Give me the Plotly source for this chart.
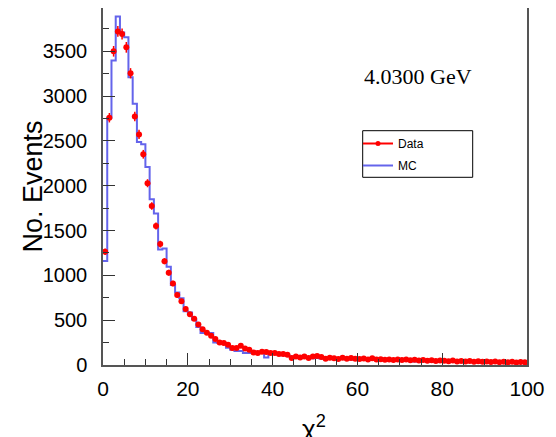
import numpy as np
import plotly.graph_objects as go

# chi2 histogram, 100 bins of width 1 on [0, 100]
bin_low = 0
bin_width = 1
data_counts = [1264, 2759, 3500, 3722, 3693, 3544, 3255, 2773, 2573, 2351,
               2028, 1774, 1550, 1349, 1158, 1030, 910, 780, 712, 626,
               567, 515, 452, 400, 360, 325, 289, 251, 245, 226,
               189, 189, 215, 185, 170, 140, 133, 148, 145, 133,
               133, 122, 122, 115, 78, 96, 85, 96, 78, 96,
               100, 88, 70, 80, 75, 68, 82, 70, 78, 70,
               66, 72, 62, 75, 60, 65, 58, 62, 55, 60,
               55, 60, 52, 58, 50, 55, 48, 52, 45, 50,
               48, 42, 50, 40, 45, 38, 44, 36, 42, 35,
               40, 34, 38, 32, 36, 30, 35, 28, 33, 30]
mc_counts = [1160, 2759, 3396, 3889, 3711, 3656, 3211, 2915, 2488, 2462,
             2209, 1850, 1691, 1290, 1300, 1097, 893, 808, 745, 600,
             585, 508, 423, 356, 356, 356, 251, 245, 245, 192,
             170, 155, 155, 133, 133, 148, 148, 148, 85, 133,
             133, 133, 110, 105, 96, 96, 90, 80, 85, 75,
             78, 72, 70, 68, 74, 66, 70, 64, 62, 66,
             60, 58, 62, 55, 58, 52, 56, 50, 54, 48,
             52, 46, 50, 40, 48, 44, 46, 42, 44, 40,
             42, 38, 40, 36, 38, 35, 37, 33, 30, 34,
             32, 30, 33, 29, 31, 28, 30, 27, 29, 28]
x_ticks = [0, 20, 40, 60, 80, 100]
y_ticks = [0, 500, 1000, 1500, 2000, 2500, 3000, 3500]
energy_label = "4.0300 GeV"

n = len(data_counts)
edges = bin_low + bin_width * np.arange(n + 1)
centers = edges[:-1] + bin_width / 2
data_err = np.sqrt(np.array(data_counts, dtype=float))

RED = "#ff0000"
BLUE = "rgb(100,100,235)"

fig = go.Figure()
fig.add_trace(go.Scatter(
    x=edges, y=list(mc_counts) + [mc_counts[-1]],
    mode="lines", line=dict(shape="hv", color=BLUE, width=2),
    name="MC", showlegend=False,
))
fig.add_trace(go.Scatter(
    x=centers, y=data_counts, mode="markers",
    marker=dict(color=RED, size=6, symbol="circle"),
    error_y=dict(type="data", array=data_err, color=RED, thickness=1.5, width=0),
    name="Data", showlegend=False,
))
# legend entries (ROOT style: Data drawn as line + marker, MC as line)
fig.add_trace(go.Scatter(
    x=[None], y=[None], mode="lines+markers",
    line=dict(color=RED, width=2), marker=dict(color=RED, size=5),
    name="Data", legendgroup="data", legendrank=1,
))
fig.add_trace(go.Scatter(
    x=[None], y=[None], mode="lines",
    line=dict(color=BLUE, width=2),
    name="MC", legendgroup="mc", legendrank=2,
))

# the page body adds an 8 px offset; place the plot in page coordinates
OFF = 8
W, H = 556 - OFF, 437 - OFF
L, R, T, B = 103 - OFF, 29, 0, 72
pw, ph = W - L - R, H - T - B

def px(xp):
    return (xp - 103) / pw

def py(yp):
    return (365 - yp) / ph

fig.update_layout(
    width=W, height=H,
    margin=dict(l=L, r=R, t=T, b=B, autoexpand=False),
    paper_bgcolor="white", plot_bgcolor="white",
    font=dict(family="Liberation Sans, Arial, sans-serif", color="black"),
    showlegend=True,
    legend=dict(x=px(358), y=py(129), xanchor="left", yanchor="top",
                bgcolor="rgba(0,0,0,0)", borderwidth=0,
                font=dict(size=12, family="Liberation Sans"),
                traceorder="grouped", tracegroupgap=3),
    xaxis=dict(range=[0, 100], tickvals=x_ticks, ticks="inside", ticklen=12,
               tickcolor="#333", tickwidth=1, showgrid=False, zeroline=False,
               showline=True, linecolor="#555", linewidth=1.5, mirror=True,
               tickfont=dict(size=21), ticklabelstandoff=4,
               minor=dict(dtick=5, ticks="inside", ticklen=6, tickcolor="#333", showgrid=False)),
    yaxis=dict(range=[0, 3983], tickvals=y_ticks, ticks="inside", ticklen=12,
               tickcolor="#333", tickwidth=1, showgrid=False, zeroline=False,
               showline=True, linecolor="#555", linewidth=1.5, mirror=True,
               tickfont=dict(size=20), ticklabelstandoff=10,
               minor=dict(dtick=250, ticks="inside", ticklen=6, tickcolor="#333", showgrid=False)),
    shapes=[dict(type="rect", xref="paper", yref="paper",
                 x0=px(362.7), x1=px(472.7), y0=py(177.3), y1=py(130.7),
                 line=dict(color="black", width=1), fillcolor="rgba(0,0,0,0)")],
    annotations=[
        dict(text="No. Events", textangle=-90, xref="paper", yref="paper",
             x=px(32), y=0.5, xanchor="center", yanchor="middle",
             showarrow=False, font=dict(size=27)),
        dict(text="χ<sup>2</sup>", xref="paper", yref="paper", x=px(314), y=py(409),
             xanchor="center", yanchor="top", showarrow=False,
             font=dict(size=26)),
        dict(text=energy_label, xref="paper", yref="paper", x=px(418), y=py(77),
             xanchor="center", yanchor="middle", showarrow=False,
             font=dict(size=22, family="Liberation Serif, Times New Roman, serif")),
    ],
)

fig.write_html("out.html")
